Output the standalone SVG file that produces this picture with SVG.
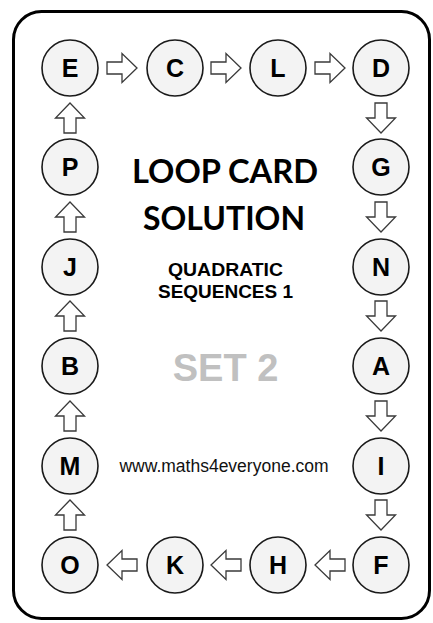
<svg xmlns="http://www.w3.org/2000/svg" xmlns:xlink="http://www.w3.org/1999/xlink" width="433" height="623" viewBox="0 0 433 623">
<style>
.node circle{fill:#f3f3f3;stroke:#1a1a1a;stroke-width:1.6}
.node text{font-family:"Liberation Sans",Arial,sans-serif;font-weight:bold;font-size:25px;fill:#000;text-anchor:middle}
.arrow{fill:#fff;stroke:#3a3a3a;stroke-width:1.3;stroke-linejoin:miter}
.title{font-family:Lato,"Open Sans",sans-serif;font-weight:bold;font-size:32px;fill:#000;text-anchor:middle}
.sub{font-family:"Liberation Sans",Arial,sans-serif;font-weight:bold;font-size:18.5px;fill:#000;text-anchor:middle}
</style>
<defs>
<polygon id="arr" class="arrow" points="-15,-6 0,-6 0,-14.5 15,0 0,14.5 0,6 -15,6"/>
</defs>
<rect width="433" height="623" fill="#fff"/>
<rect x="13.5" y="11.5" width="416" height="607" rx="28" fill="#fff" stroke="#000" stroke-width="3"/>
<g id="connectors">
<use xlink:href="#arr" transform="translate(122,68)"/>
<use xlink:href="#arr" transform="translate(226,68)"/>
<use xlink:href="#arr" transform="translate(330,68)"/>
<use xlink:href="#arr" transform="translate(381,118) rotate(90)"/>
<use xlink:href="#arr" transform="translate(381,217) rotate(90)"/>
<use xlink:href="#arr" transform="translate(381,316) rotate(90)"/>
<use xlink:href="#arr" transform="translate(381,416) rotate(90)"/>
<use xlink:href="#arr" transform="translate(381,515) rotate(90)"/>
<use xlink:href="#arr" transform="translate(330,565) rotate(180)"/>
<use xlink:href="#arr" transform="translate(226,565) rotate(180)"/>
<use xlink:href="#arr" transform="translate(122,565) rotate(180)"/>
<use xlink:href="#arr" transform="translate(70,515) rotate(-90)"/>
<use xlink:href="#arr" transform="translate(70,416) rotate(-90)"/>
<use xlink:href="#arr" transform="translate(70,316) rotate(-90)"/>
<use xlink:href="#arr" transform="translate(70,217) rotate(-90)"/>
<use xlink:href="#arr" transform="translate(70,118) rotate(-90)"/>
</g>
<g id="node-E" class="node"><circle cx="70" cy="68" r="28"/><text x="70" y="77">E</text></g>
<g id="node-C" class="node"><circle cx="175" cy="68" r="28"/><text x="175" y="77">C</text></g>
<g id="node-L" class="node"><circle cx="278" cy="68" r="28"/><text x="278" y="77">L</text></g>
<g id="node-D" class="node"><circle cx="381" cy="68" r="28"/><text x="381" y="77">D</text></g>
<g id="node-G" class="node"><circle cx="381" cy="167" r="28"/><text x="381" y="176">G</text></g>
<g id="node-N" class="node"><circle cx="381" cy="267" r="28"/><text x="381" y="276">N</text></g>
<g id="node-A" class="node"><circle cx="381" cy="366" r="28"/><text x="381" y="375">A</text></g>
<g id="node-I" class="node"><circle cx="381" cy="466" r="28"/><text x="381" y="475">I</text></g>
<g id="node-F" class="node"><circle cx="381" cy="565" r="28"/><text x="381" y="574">F</text></g>
<g id="node-H" class="node"><circle cx="278" cy="565" r="28"/><text x="278" y="574">H</text></g>
<g id="node-K" class="node"><circle cx="175" cy="565" r="28"/><text x="175" y="574">K</text></g>
<g id="node-O" class="node"><circle cx="70" cy="565" r="28"/><text x="70" y="574">O</text></g>
<g id="node-M" class="node"><circle cx="70" cy="466" r="28"/><text x="70" y="475">M</text></g>
<g id="node-B" class="node"><circle cx="70" cy="366" r="28"/><text x="70" y="375">B</text></g>
<g id="node-J" class="node"><circle cx="70" cy="267" r="28"/><text x="70" y="276">J</text></g>
<g id="node-P" class="node"><circle cx="70" cy="167" r="28"/><text x="70" y="176">P</text></g>
<g id="labels">
<text class="title" x="225" y="183" textLength="186" lengthAdjust="spacingAndGlyphs">LOOP CARD</text>
<text class="title" x="224" y="230" textLength="162" lengthAdjust="spacingAndGlyphs">SOLUTION</text>
<text class="sub" x="225.5" y="276" textLength="115" lengthAdjust="spacingAndGlyphs">QUADRATIC</text>
<text class="sub" x="225.5" y="298" textLength="135" lengthAdjust="spacingAndGlyphs">SEQUENCES 1</text>
<text x="225.5" y="381" font-family="Liberation Sans,Arial,sans-serif" font-weight="bold" font-size="38" fill="#c0c0c0" text-anchor="middle">SET 2</text>
<text x="224" y="472" font-family="Liberation Sans,Arial,sans-serif" font-size="17.5" fill="#111" text-anchor="middle">www.maths4everyone.com</text>
</g>
</svg>
